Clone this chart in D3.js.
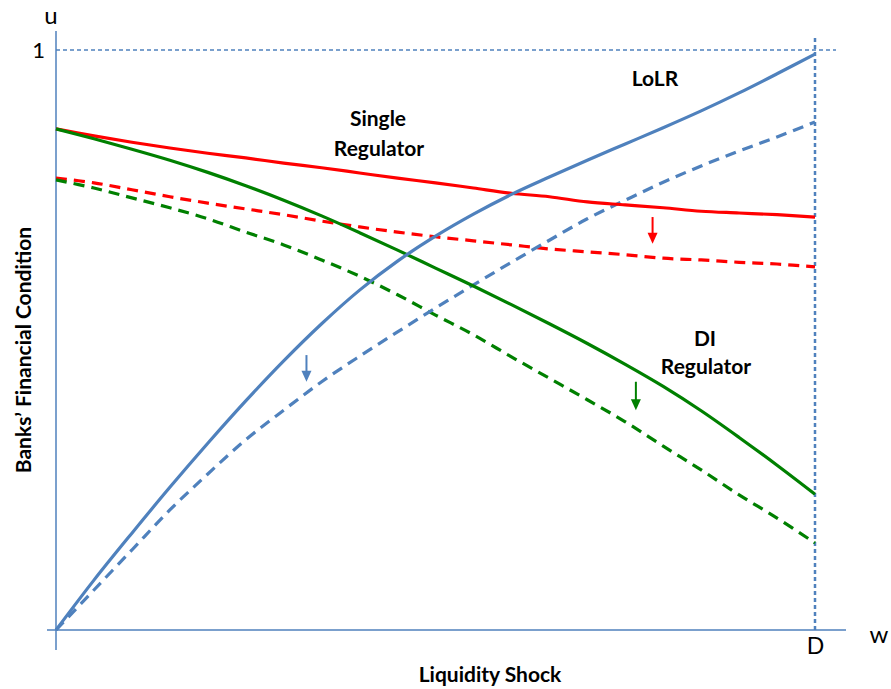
<!DOCTYPE html>
<html><head><meta charset="utf-8">
<script src="https://cdn.jsdelivr.net/npm/d3@7"></script>
<style>
body{margin:0;background:#fff;}
text{font-family:Lato,"Open Sans",sans-serif;}
</style></head>
<body><svg id="c" width="891" height="689"></svg>
<script>
const xs = [0,5,10,15,20,25,30,35,40,45,50,55,60,65,70,75,80,85,90,95,100];
const lolrSolid = [0,8.6,16.7,24.6,32.2,39.5,46.4,52.8,58.6,63.6,67.9,71.7,75.1,78.1,81.0,83.8,86.6,89.5,92.6,95.9,99.3];
const lolrDashed = [0,6.9,13.8,20.7,26.9,32.8,37.9,42.8,47.2,51.4,55.5,59.5,63.4,67.2,70.9,74.1,77.2,80.0,82.6,85.0,87.6];
const singleSolid = [86.4,85.2,84.1,83.1,82.2,81.4,80.5,79.7,78.8,77.9,77.1,76.2,75.3,74.7,73.8,73.3,72.8,72.2,71.9,71.6,71.2];
const singleDashed = [77.9,77.1,75.9,74.7,73.6,72.6,71.6,70.5,69.5,68.6,67.8,67.1,66.4,65.7,65.2,64.7,64.1,63.8,63.4,63.1,62.6];
const diSolid = [86.4,84.7,82.9,81.0,78.9,76.6,74.1,71.4,68.5,65.5,62.4,59.3,56.1,52.8,49.4,45.8,42.0,37.8,33.2,28.4,23.4];
const diDashed = [77.6,76.2,74.5,72.8,70.9,68.6,66.4,63.8,61.0,57.8,54.3,50.9,47.1,43.4,39.7,35.9,31.7,27.6,23.3,19.3,15.0];
const yTicks = [100];
const yTickLabels = ["1"];
const xTicks = [100];
const xTickLabels = ["D"];
// arrows: [x, yFrom, yTo]
const arrows = [
  {x:78.6, y0:71.2, y1:66.6, color:"#FF0000"},
  {x:33.0, y0:47.4, y1:42.8, color:"#4F81BD"},
  {x:76.4, y0:42.8, y1:37.9, color:"#008000"}
];

const svg = d3.select("#c");
const x = d3.scaleLinear().domain([0,100]).range([56,815]);
const y = d3.scaleLinear().domain([0,100]).range([630,50]);
const blue = "#4F81BD", red = "#FF0000", green = "#008000";

// guide lines
svg.append("line").attr("x1",x(0)).attr("x2",836).attr("y1",y(100)).attr("y2",y(100))
  .attr("stroke",blue).attr("stroke-width",1.5).attr("stroke-dasharray","4,3");
svg.append("line").attr("x1",x(100)).attr("x2",x(100)).attr("y1",38).attr("y2",y(0))
  .attr("stroke",blue).attr("stroke-width",2.5).attr("stroke-dasharray","4,3");

// axes
const yAxis = svg.append("g").attr("transform",`translate(${x(0)},0)`)
  .call(d3.axisLeft(y).tickValues(yTicks).tickFormat((d,i)=>yTickLabels[i]).tickSize(0).tickPadding(11));
yAxis.select(".domain").remove();
yAxis.selectAll("text").attr("font-size",22).attr("fill","#000").style("font-family","Lato, sans-serif");
const xAxis = svg.append("g").attr("transform",`translate(0,${y(0)})`)
  .call(d3.axisBottom(x).tickValues(xTicks).tickFormat((d,i)=>xTickLabels[i]).tickSize(0).tickPadding(8));
xAxis.select(".domain").remove();
xAxis.selectAll("text").attr("font-size",23).attr("fill","#000").style("font-family","Lato, sans-serif");
svg.append("line").attr("x1",47).attr("x2",846).attr("y1",y(0)).attr("y2",y(0)).attr("stroke",blue).attr("stroke-width",1.5);
svg.append("line").attr("x1",x(0)).attr("x2",x(0)).attr("y1",31).attr("y2",650).attr("stroke",blue).attr("stroke-width",1.5);

// series
const line = d3.line().x((d,i)=>x(xs[i])).y(d=>y(d)).curve(d3.curveCatmullRom);
const series = [
  {v:singleDashed,c:red,dash:"11,7"},
  {v:diDashed,c:green,dash:"11,7"},
  {v:lolrDashed,c:blue,dash:"11,7"},
  {v:singleSolid,c:red,dash:null},
  {v:diSolid,c:green,dash:null},
  {v:lolrSolid,c:blue,dash:null}
];
series.forEach(s=>{
  svg.append("path").attr("d",line(s.v)).attr("fill","none").attr("stroke",s.c)
    .attr("stroke-width",3.2).attr("stroke-dasharray",s.dash);
});

// arrows
arrows.forEach(a=>{
  const X=x(a.x), Y0=y(a.y0), Y1=y(a.y1);
  svg.append("line").attr("x1",X).attr("x2",X).attr("y1",Y0).attr("y2",Y1-8).attr("stroke",a.color).attr("stroke-width",2);
  svg.append("path").attr("d",`M${X-5},${Y1-11}L${X+5},${Y1-11}L${X},${Y1}Z`).attr("fill",a.color);
});

// labels
function lab(t,px,py,size,bold){
  svg.append("text").attr("x",px).attr("y",py).attr("text-anchor","middle").attr("dominant-baseline","central")
    .attr("font-size",size).attr("font-weight",bold?"bold":"normal").text(t);
}
lab("u",51,14,24,false);
lab("w",879,633,24,false);
lab("LoLR",655,77,21,true);
lab("Single",378,117,21,true);
lab("Regulator",379,147,21,true);
lab("DI",705,337,21,true);
lab("Regulator",706,365,21,true);
lab("Liquidity Shock",490,673,21,true);
svg.append("text").attr("transform","translate(22,350) rotate(-90)").attr("text-anchor","middle")
  .attr("dominant-baseline","central").attr("font-size",21).attr("font-weight","bold").text("Banks’ Financial Condition");
</script></body></html>
